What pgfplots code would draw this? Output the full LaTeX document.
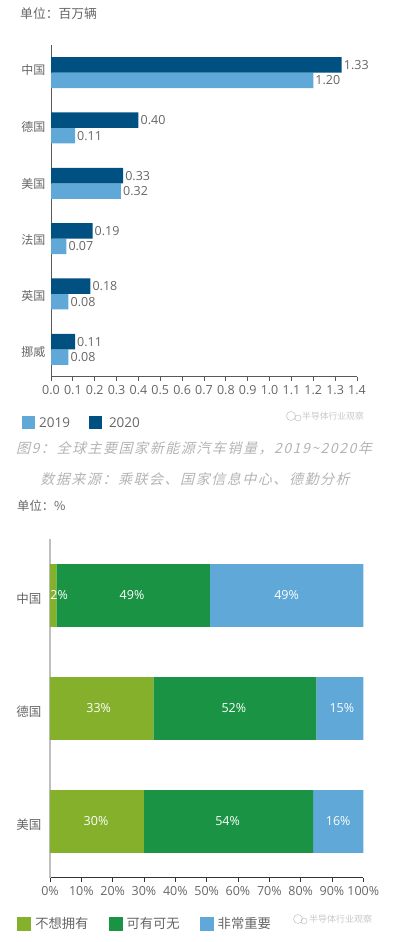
\documentclass[border=0pt]{standalone}
\usepackage{pgfplots}
\usepackage{fontspec}
\pgfplotsset{compat=1.18}
\setmainfont{Open Sans}
\newfontfamily\cjk{Noto Sans CJK SC}
\newfontfamily\cjki[FakeSlant=0.25,LetterSpace=11]{Noto Sans CJK SC}
\definecolor{lb}{HTML}{5FA8D8}
\definecolor{db}{HTML}{005082}
\definecolor{lg}{HTML}{84B02B}
\definecolor{dg}{HTML}{1A9345}
\definecolor{txt}{HTML}{666666}
\definecolor{cap}{HTML}{B4B4B4}
\definecolor{wm}{HTML}{C8C8C8}
\pgfplotstableread{
x y
2 2
33 1
30 0
}\tA
\pgfplotstableread{
x y
49 2
52 1
54 0
}\tB
\pgfplotstableread{
x y
49 2
15 1
16 0
}\tC
\begin{document}
\begin{tikzpicture}[x=1pt,y=1pt]
\path (0,0) rectangle (404,942);
\begin{axis}[
  at={(51pt,565pt)},anchor=south west,
  scale only axis,width=306pt,height=332pt,
  xbar,bar width=15.5pt,bar shift=0pt,
  xmin=0,xmax=1.4,ymin=-0.5,ymax=5.5,
  axis x line*=bottom,axis y line*=left,
  axis line style={color=black!65,line width=1pt,-},
  xtick={0,0.1,0.2,0.3,0.4,0.5,0.6,0.7,0.8,0.9,1.0,1.1,1.2,1.3,1.4},
  xticklabel style={font=\fontsize{12.5}{14}\selectfont,color=txt,/pgf/number format/assume math mode=true,/pgf/number format/fixed,/pgf/number format/fixed zerofill,/pgf/number format/precision=1,yshift=-1pt},
  ytick={-0.03,0.982,1.994,3.006,4.036,5.067},
  yticklabels={挪威,英国,法国,美国,德国,中国},
  yticklabel style={font=\cjk\fontsize{12}{14}\selectfont,color=txt,xshift=2pt,yshift=-0.5pt},
  minor ytick={-0.5,0.5,1.5,2.5,3.5,4.5,5.5},
  major tick length=4pt,minor tick length=4pt,
  tick align=outside,
  every x tick/.style={color=black!65,line width=0.8pt},
  every y tick/.style={draw=none},
  every minor y tick/.style={color=black!65,line width=0.8pt},
  clip=false,
  nodes near coords,point meta=x,
  nodes near coords style={font=\fontsize{12.5}{14}\selectfont,color=txt,/pgf/number format/assume math mode=true,/pgf/number format/fixed,/pgf/number format/fixed zerofill,/pgf/number format/precision=2,inner xsep=2pt},
  legend style={at={(axis description cs:-0.095,-0.1385)},anchor=west,draw=none,fill=none,inner sep=0pt,font=\fontsize{13.5}{15}\selectfont\color{txt},legend columns=2,/tikz/every even column/.append style={column sep=17pt}},
  legend image code/.code={\fill[#1] (0pt,-6.5pt) rectangle (13pt,6.5pt);},
]
\addplot[fill=lb,draw=none,bar shift=-7.75pt] coordinates {(1.20,5) (0.11,4) (0.32,3) (0.07,2) (0.08,1) (0.08,0)};
\addlegendentry{\hspace{2pt}2019}
\addplot[fill=db,draw=none,bar shift=7.75pt] coordinates {(1.33,5) (0.40,4) (0.33,3) (0.19,2) (0.18,1) (0.11,0)};
\addlegendentry{\hspace{5pt}2020}
\end{axis}
\begin{axis}[
  at={(50pt,64pt)},anchor=south west,
  scale only axis,width=313.3pt,height=339pt,
  xbar stacked,bar width=62.7pt,
  xmin=0,xmax=100,ymin=-0.5,ymax=2.5,
  axis x line*=bottom,axis y line*=left,
  x axis line style={color=black!80,line width=1pt,-},
  y axis line style={color=black!25,line width=1.2pt,-},
  xtick={0,10,...,100},
  xticklabel={\pgfmathprintnumber{\tick}\%},
  xticklabel style={font=\fontsize{12.5}{14}\selectfont,color=txt,/pgf/number format/assume math mode=true,yshift=-1pt},
  ytick={0,1,2},
  yticklabels={美国,德国,中国},
  yticklabel style={font=\cjk\fontsize{12.5}{14}\selectfont,color=txt,xshift=-1pt,yshift=-3pt},
  minor ytick={-0.5,0.5,1.5,2.5},
  major tick length=4pt,minor tick length=4pt,
  tick align=outside,
  every x tick/.style={color=black!80,line width=0.8pt},
  every y tick/.style={draw=none},
  every minor y tick/.style={color=black!25,line width=0.8pt},
  clip=false,
  visualization depends on=rawx \as \xv,
  visualization depends on=rawy \as \yv,
  nodes near coords={\pgfmathprintnumber{\xv}\%},
  legend style={at={(axis description cs:-0.105,-0.1357)},anchor=west,draw=none,fill=none,inner sep=0pt,font=\cjk\fontsize{13.3}{15}\selectfont\color{txt},legend columns=3,/tikz/every even column/.append style={column sep=18pt}},
  legend image code/.code={\fill[#1] (0pt,-7pt) rectangle (14pt,7pt);},
]
\addplot[fill=lg,draw=none,nodes near coords style={font=\fontsize{12.5}{14}\selectfont,color=white,anchor=center,/pgf/number format/assume math mode=true,xshift={(\yv==2?6:(\yv==1?-3:-1))*1pt}}] table[x=x,y=y] {\tA};
\addlegendentry{\hspace{2pt}不想拥有}
\addplot[fill=dg,draw=none,nodes near coords style={font=\fontsize{12.5}{14}\selectfont,color=white,anchor=center,/pgf/number format/assume math mode=true,xshift=-1pt}] table[x=x,y=y] {\tB};
\addlegendentry{\hspace{2pt}可有可无}
\addplot[fill=lb,draw=none,nodes near coords style={font=\fontsize{12.5}{14}\selectfont,color=white,anchor=center,/pgf/number format/assume math mode=true,xshift={(\yv==1?2:0)*1pt}}] table[x=x,y=y] {\tC};
\addlegendentry{\hspace{2pt}非常重要}
\end{axis}
\node[anchor=west,inner sep=0pt,color=txt,font=\cjk\fontsize{12.8}{14}\selectfont] at (20,928) {单位：百万辆};
\node[anchor=west,inner sep=0pt,color=txt,font=\cjk\fontsize{12.3}{14}\selectfont] at (17,436.5) {单位：\%};
\node[anchor=center,inner sep=0pt,color=cap,font=\cjki\fontsize{14}{16}\selectfont] at (194,494) {图9：全球主要国家新能源汽车销量，2019\textasciitilde2020年};
\node[anchor=center,inner sep=0pt,color=cap,font=\cjki\fontsize{14}{16}\selectfont] at (195,463) {数据来源：乘联会、国家信息中心、德勤分析};
\node[anchor=west,inner sep=0pt,color=wm,font=\cjk\fontsize{8.8}{10}\selectfont] at (302,526) {半导体行业观察};
\draw[wm,line width=0.6pt] (291,526) circle (4.5pt) (298,524) circle (3pt);
\node[anchor=west,inner sep=0pt,color=wm,font=\cjk\fontsize{9}{10}\selectfont] at (309,23) {半导体行业观察};
\draw[wm,line width=0.6pt] (298,23) circle (4.5pt) (304,21) circle (3pt);
\end{tikzpicture}
\end{document}
